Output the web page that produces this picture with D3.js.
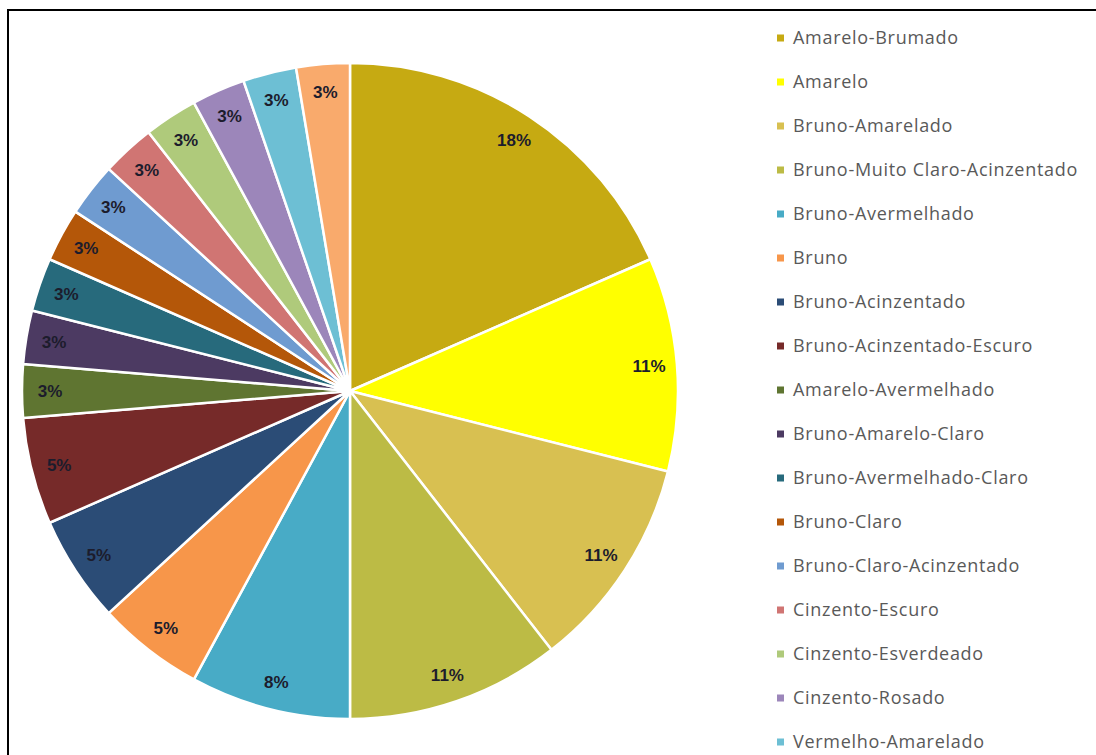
<!DOCTYPE html>
<html>
<head>
<meta charset="utf-8">
<script src="https://cdn.jsdelivr.net/npm/d3@7"></script>
<style>
  body { margin: 0; background: #fff; }
  svg { display: block; }
</style>
</head>
<body>
<div id="chart"></div>
<script>
// Données : cores do solo (contagens)
const categorias = [
  "Amarelo-Brumado", "Amarelo", "Bruno-Amarelado", "Bruno-Muito Claro-Acinzentado",
  "Bruno-Avermelhado", "Bruno", "Bruno-Acinzentado", "Bruno-Acinzentado-Escuro",
  "Amarelo-Avermelhado", "Bruno-Amarelo-Claro", "Bruno-Avermelhado-Claro", "Bruno-Claro",
  "Bruno-Claro-Acinzentado", "Cinzento-Escuro", "Cinzento-Esverdeado", "Cinzento-Rosado",
  "Vermelho-Amarelado", "Vermelho"
];
const valores = [7, 4, 4, 4, 3, 2, 2, 2, 1, 1, 1, 1, 1, 1, 1, 1, 1, 1];
const cores = [
  "#c6aa12", "#ffff00", "#d8c051", "#bcbb45", "#48abc6", "#f7964a",
  "#2b4c76", "#762a29", "#5f7531", "#4c3a62", "#276a7c", "#b45709",
  "#6f9bd0", "#d07573", "#afca7b", "#9c86ba", "#6dbfd4", "#f9aa6c"
];

const W = 1096, H = 755;
const cx = 350, cy = 391, R = 328, rLabel = 300;

const svg = d3.select("#chart").append("svg")
  .attr("width", W)
  .attr("height", H)
  .style("font-family", "'Open Sans', sans-serif");

// Moldura
svg.append("rect")
  .attr("x", 8).attr("y", 10)
  .attr("width", 1300).attr("height", 1000)
  .attr("fill", "#fff")
  .attr("stroke", "#000")
  .attr("stroke-width", 2);

const total = d3.sum(valores);
const pie = d3.pie().sort(null).value(d => d.v);
const dados = categorias.map((c, i) => ({ nome: c, v: valores[i], cor: cores[i] }));
const arcs = pie(dados);

const arc = d3.arc().innerRadius(0).outerRadius(R);
const arcLabel = d3.arc().innerRadius(rLabel).outerRadius(rLabel);

const g = svg.append("g").attr("transform", `translate(${cx},${cy})`);

g.selectAll("path")
  .data(arcs)
  .enter()
  .append("path")
  .attr("d", arc)
  .attr("fill", d => d.data.cor)
  .attr("stroke", "#fff")
  .attr("stroke-width", 2.5)
  .attr("stroke-linejoin", "round");

g.selectAll("text.rotulo")
  .data(arcs)
  .enter()
  .append("text")
  .attr("class", "rotulo")
  .attr("transform", d => `translate(${arcLabel.centroid(d)})`)
  .attr("text-anchor", "middle")
  .attr("dy", "0.35em")
  .style("font-family", "'Liberation Sans', Arial, sans-serif")
  .style("font-size", "17px")
  .style("font-weight", "700")
  .attr("fill", "#1c1c2c")
  .text(d => Math.round(d.data.v / total * 100) + "%");

// Legenda (como no Excel, só as entradas que cabem na área)
const y0 = 38, passo = 44;
const visiveis = dados.filter((d, i) => y0 + i * passo + 8 < H);

const legenda = svg.append("g").attr("class", "legenda");

const item = legenda.selectAll("g")
  .data(visiveis)
  .enter()
  .append("g")
  .attr("transform", (d, i) => `translate(777,${y0 + i * passo})`);

item.append("rect")
  .attr("x", 0).attr("y", -3.5)
  .attr("width", 7).attr("height", 7)
  .attr("fill", d => d.cor);

item.append("text")
  .attr("x", 16)
  .attr("dy", "0.35em")
  .style("font-size", "18px")
  .style("letter-spacing", "0.7px")
  .attr("fill", "#595959")
  .text(d => d.nome);
</script>
</body>
</html>
